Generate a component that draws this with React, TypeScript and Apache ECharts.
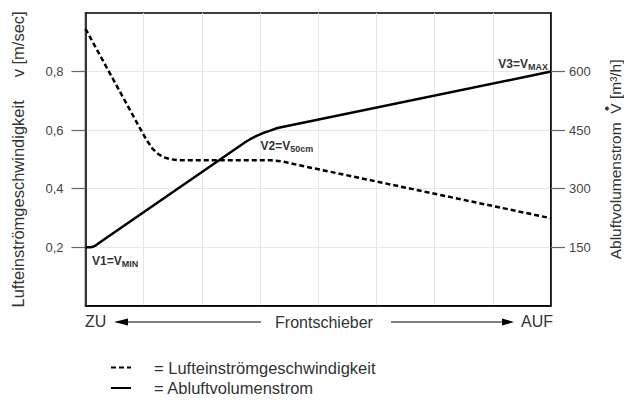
import React, { useEffect, useRef } from "react";
import * as echarts from "echarts";

const velocityName = "Lufteinströmgeschwindigkeit";
const volumeName = "Abluftvolumenstrom";

// x: Frontschieber position (0 = ZU, 8 = AUF), y: m/sec
const velocityData: [number, number][] = [
  [0, 0.946], [0.97, 0.594], [1.05, 0.566], [1.15, 0.537], [1.25, 0.518],
  [1.35, 0.507], [1.45, 0.501], [1.6, 0.497], [3.2, 0.497], [3.35, 0.494],
  [3.5, 0.488], [3.65, 0.481], [8, 0.299],
];

// x: Frontschieber position, y: m³/h
const volumeData: [number, number][] = [
  [0, 150], [0.08, 150], [0.13, 151.5], [0.18, 155], [0.25, 163], [2.75, 419.6],
  [2.85, 428.5], [2.95, 436], [3.05, 442.5], [3.15, 447.5], [3.3, 455.5], [8, 600],
];

const leftTicks = [0.2, 0.4, 0.6, 0.8];
const rightTicks = [150, 300, 450, 600];

const annotations = [
  { main: "V1=V", sub: "MIN", coord: [0, 150], position: "right", offset: [6.5, 14] },
  { main: "V2=V", sub: "50cm", coord: [3.0, 439], position: "right", offset: [0.5, 12] },
  { main: "V3=V", sub: "MAX", coord: [8, 600], position: "left", offset: [-3, -7.5] },
];

const FONT = "Liberation Sans, Arial, sans-serif";
const TEXT = "#333";

export default function App() {
  const ref = useRef<HTMLDivElement>(null);
  useEffect(() => {
    if (!ref.current) return;
    const chart = echarts.init(ref.current, null, { renderer: "svg" });
    chart.setOption({
      animation: false,
      backgroundColor: "#fff",
      textStyle: { fontFamily: FONT },
      grid: {
        left: 85.5, right: 73, top: 13, bottom: 95.2,
        outerBoundsMode: "none", containLabel: false,
        show: true, borderColor: "#000", borderWidth: 1.5, backgroundColor: "transparent",
      },
      legend: {
        orient: "vertical", left: 110, top: 359, padding: 0,
        itemWidth: 20, itemHeight: 14, itemGap: 3.5,
        formatter: "= {name}",
        itemStyle: { opacity: 0, borderWidth: 0 },
        textStyle: { fontSize: 16.5, color: TEXT, fontFamily: FONT, padding: [0, 0, 0, 18] },
        data: [velocityName, volumeName],
      },
      xAxis: {
        type: "value", min: 0, max: 8, interval: 1,
        axisLine: { show: true, lineStyle: { color: "#000", width: 1.5 } },
        axisTick: { show: false }, axisLabel: { show: false },
        splitLine: { show: true, lineStyle: { color: "#e6e6e6", width: 1 } },
      },
      yAxis: [
        {
          type: "value", min: 0, max: 1, interval: 0.2, position: "left",
          name: velocityName + "     v [m/sec]",
          nameLocation: "middle", nameRotate: 90, nameGap: 59,
          nameTextStyle: { fontSize: 16.5, color: TEXT, fontFamily: FONT },
          axisLine: { show: true, lineStyle: { color: "#000", width: 1.5 } },
          axisTick: { show: true, length: 14, customValues: leftTicks, lineStyle: { color: "#666", width: 1.2 } },
          axisLabel: {
            customValues: leftTicks, margin: 22, fontSize: 13, color: "#444", fontFamily: FONT,
            formatter: (v: number) => v.toFixed(1).replace(".", ","),
          },
          splitLine: { show: true, lineStyle: { color: "#e6e6e6", width: 1 } },
        },
        {
          type: "value", min: 0, max: 750, interval: 150, position: "right",
          name: volumeName + "  V [m\u00b3/h]",
          nameLocation: "middle", nameRotate: 90, nameGap: 56,
          nameTextStyle: { fontSize: 15.5, color: TEXT, fontFamily: FONT },
          axisLine: { show: true, lineStyle: { color: "#000", width: 1.5 } },
          axisTick: { show: true, length: 14, customValues: rightTicks, lineStyle: { color: "#666", width: 1.2 } },
          axisLabel: { customValues: rightTicks, margin: 18, fontSize: 13, color: "#444", fontFamily: FONT },
          splitLine: { show: false },
        },
      ],
      series: [
        {
          name: velocityName, type: "line", yAxisIndex: 0, data: velocityData,
          symbol: "none",
          lineStyle: { color: "#000", width: 2.5, type: [5, 3] },
          itemStyle: { color: "#000" },
        },
        {
          name: volumeName, type: "line", yAxisIndex: 1, data: volumeData,
          symbol: "none",
          lineStyle: { color: "#000", width: 2.5 },
          itemStyle: { color: "#000" },
          markPoint: {
            symbol: "circle", symbolSize: 0, silent: true,
            label: {
              show: true,
              rich: {
                a: { fontSize: 12, fontWeight: "bold", color: TEXT, fontFamily: FONT, lineHeight: 14 },
                b: { fontSize: 9, fontWeight: "bold", color: TEXT, fontFamily: FONT, lineHeight: 8, verticalAlign: "bottom" },
              },
            },
            data: annotations.map((a) => ({
              coord: a.coord,
              label: {
                show: true, position: a.position, distance: 0, offset: a.offset,
                formatter: `{a|${a.main}}{b|${a.sub}}`,
              },
            })),
          },
        },
      ],
      graphic: [
        { type: "circle", shape: { cx: 607, cy: 108.5, r: 1.9 }, style: { fill: TEXT } },
        { type: "text", left: 85, top: 313, style: { text: "ZU", fontSize: 16, fill: TEXT, fontFamily: FONT } },
        { type: "polygon", shape: { points: [[114, 322], [128, 318.5], [128, 325.5]] }, style: { fill: "#000" } },
        { type: "line", shape: { x1: 127, y1: 322, x2: 261, y2: 322 }, style: { stroke: "#000", lineWidth: 1 } },
        { type: "text", x: 324, y: 322, style: { text: "Frontschieber", fontSize: 16, fill: TEXT, fontFamily: FONT, align: "center", verticalAlign: "middle" } },
        { type: "line", shape: { x1: 391, y1: 322, x2: 503, y2: 322 }, style: { stroke: "#000", lineWidth: 1 } },
        { type: "polygon", shape: { points: [[514, 322], [502, 318.5], [502, 325.5]] }, style: { fill: "#000" } },
        { type: "text", x: 553, y: 321, style: { text: "AUF", fontSize: 16, fill: TEXT, fontFamily: FONT, align: "right", verticalAlign: "middle" } },
      ],
    });
    return () => chart.dispose();
  }, []);
  return <div ref={ref} style={{ position: "absolute", left: 0, top: 0, width: 624, height: 401 }} />;
}
